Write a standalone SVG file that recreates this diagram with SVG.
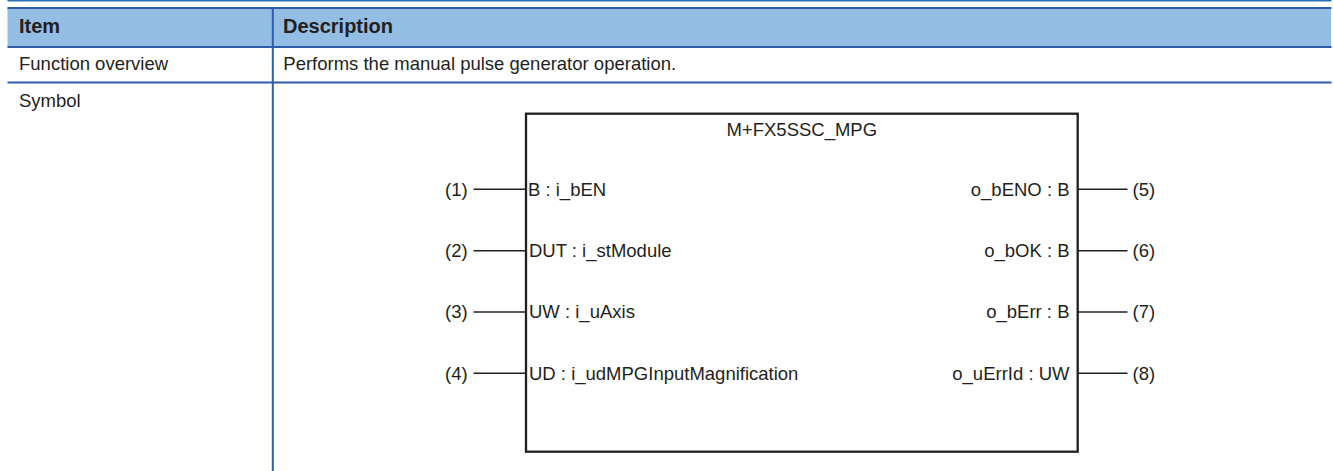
<svg xmlns="http://www.w3.org/2000/svg" width="1333" height="471" viewBox="0 0 1333 471">
  <style>
    .t { font-family: "Liberation Sans", Arial, sans-serif; font-size: 18.5px; fill: #231f20; }
    .h { font-family: "Liberation Sans", Arial, sans-serif; font-size: 20px; font-weight: bold; fill: #231f20; }
    .rule { stroke: #2f5ca8; stroke-width: 2; fill: none; }
    .pin { stroke: #231f20; stroke-width: 1.5; fill: none; }
    .box { stroke: #231f20; stroke-width: 2.3; fill: #ffffff; }
  </style>
  <rect x="0" y="0" width="1333" height="471" fill="#ffffff"/>
  <g id="table">
    <line x1="7.5" y1="0.7" x2="1331.5" y2="0.7" stroke="#2370b0" stroke-width="1.4"/>
    <rect x="7.5" y="8" width="1323.5" height="39" fill="#93bde3"/>
    <line class="rule" x1="7.5" y1="8" x2="1331.5" y2="8"/>
    <line class="rule" x1="7.5" y1="47" x2="1331.5" y2="47"/>
    <line class="rule" x1="7.5" y1="82.5" x2="1331.5" y2="82.5"/>
    <line class="rule" x1="272.8" y1="8" x2="272.8" y2="471"/>
    <text class="h" x="19" y="32.5">Item</text>
    <text class="h" x="283" y="32.5">Description</text>
    <text class="t" x="19" y="70">Function overview</text>
    <text class="t" x="283.3" y="70">Performs the manual pulse generator operation.</text>
    <text class="t" x="19" y="106.5">Symbol</text>
  </g>
  <g id="fb-block">
    <rect class="box" x="526" y="113.7" width="551.7" height="338"/>
    <text class="t" x="801.8" y="136" text-anchor="middle">M+FX5SSC_MPG</text>
  </g>
  <g id="connectors">
    <line class="pin" x1="473.5" y1="189.3" x2="526" y2="189.3"/>
    <line class="pin" x1="473.5" y1="250.7" x2="526" y2="250.7"/>
    <line class="pin" x1="473.5" y1="311.9" x2="526" y2="311.9"/>
    <line class="pin" x1="473.5" y1="373.3" x2="526" y2="373.3"/>
    <line class="pin" x1="1077.7" y1="189.3" x2="1127.5" y2="189.3"/>
    <line class="pin" x1="1077.7" y1="250.7" x2="1127.5" y2="250.7"/>
    <line class="pin" x1="1077.7" y1="311.9" x2="1127.5" y2="311.9"/>
    <line class="pin" x1="1077.7" y1="373.3" x2="1127.5" y2="373.3"/>
  </g>
  <g id="in1"><text class="t" x="445" y="195.5">(1)</text><text class="t" x="528" y="195.5">B : i_bEN</text></g>
  <g id="in2"><text class="t" x="445" y="256.9">(2)</text><text class="t" x="529" y="256.9">DUT : i_stModule</text></g>
  <g id="in3"><text class="t" x="445" y="318.1">(3)</text><text class="t" x="529" y="318.1">UW : i_uAxis</text></g>
  <g id="in4"><text class="t" x="445" y="379.5">(4)</text><text class="t" x="529" y="379.5">UD : i_udMPGInputMagnification</text></g>
  <g id="out5"><text class="t" x="1069.5" y="195.5" text-anchor="end">o_bENO : B</text><text class="t" x="1132.5" y="195.5">(5)</text></g>
  <g id="out6"><text class="t" x="1069.5" y="256.9" text-anchor="end">o_bOK : B</text><text class="t" x="1132.5" y="256.9">(6)</text></g>
  <g id="out7"><text class="t" x="1069.5" y="318.1" text-anchor="end">o_bErr : B</text><text class="t" x="1132.5" y="318.1">(7)</text></g>
  <g id="out8"><text class="t" x="1069.5" y="379.5" text-anchor="end">o_uErrId : UW</text><text class="t" x="1132.5" y="379.5">(8)</text></g>
</svg>
